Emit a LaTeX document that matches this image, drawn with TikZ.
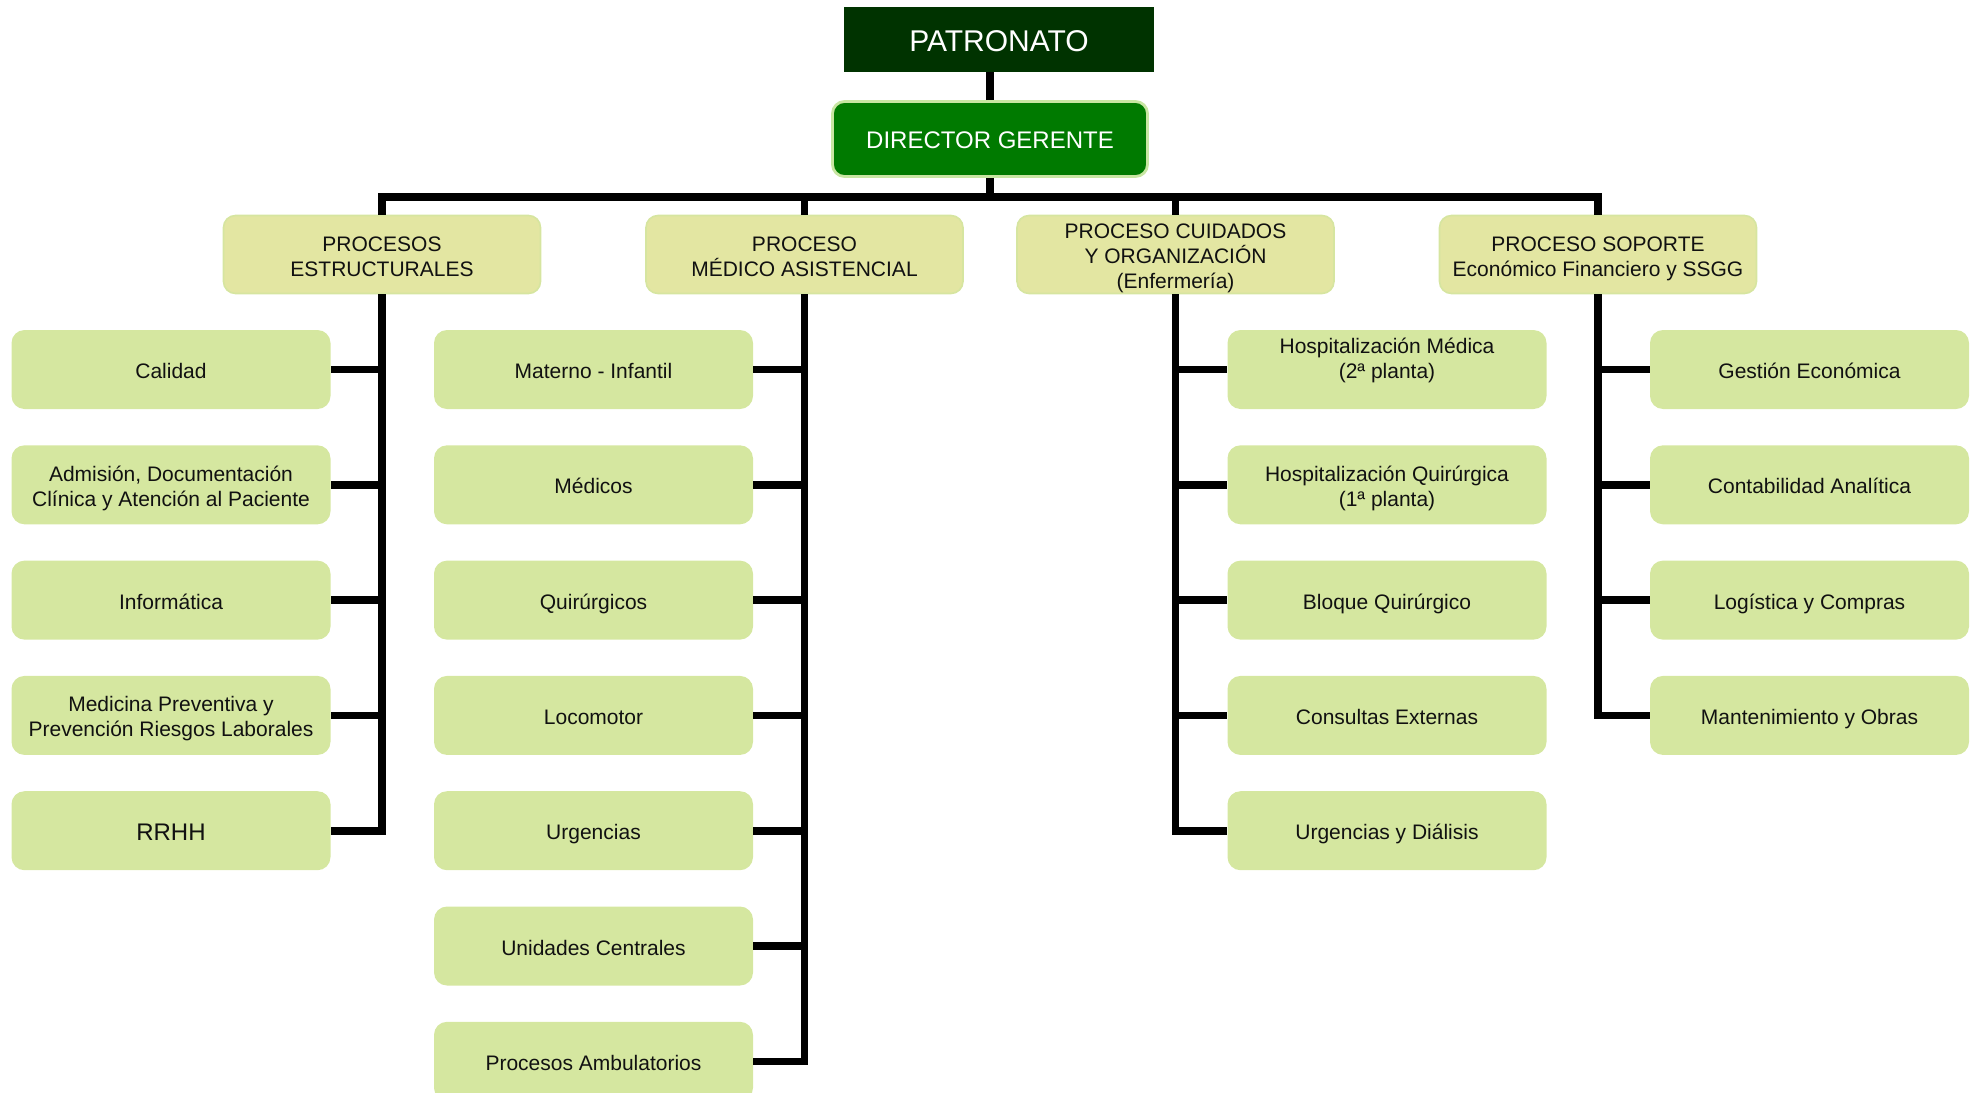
\documentclass[tikz,border=0pt]{standalone}
\usepackage{fontspec}
\setmainfont{Liberation Sans}
\definecolor{patfill}{HTML}{003300}
\definecolor{dirfill}{HTML}{007A00}
\definecolor{dirborder}{HTML}{C8E6A2}
\definecolor{ltfill}{HTML}{E3E6A2}
\definecolor{ltborder}{HTML}{D6E5A0}
\definecolor{chfill}{HTML}{D5E7A0}
\definecolor{txt}{HTML}{111111}
\newcommand{\tx}[1]{\rule{0pt}{11.4pt}#1\rule[-2.4pt]{0pt}{2.4pt}}
\newcommand{\txbig}[1]{\rule{0pt}{12.2pt}#1\rule[-2.4pt]{0pt}{2.4pt}}
\begin{document}
\begin{tikzpicture}[x=0.5pt,y=-0.5pt,
  conn/.style={line width=3.8pt, line join=miter, draw=black},
  patbox/.style={fill=patfill, minimum width=155pt, minimum height=32.5pt, inner sep=0pt, text=white, font=\fontsize{15}{18}\selectfont},
  dirbox/.style={fill=dirfill, draw=dirborder, line width=1.4pt, rounded corners=6pt, minimum width=157.5pt, minimum height=37.5pt, inner sep=0pt, text=white, font=\fontsize{12}{14}\selectfont},
  lvtwo/.style={fill=ltfill, draw=ltborder, line width=0.8pt, rounded corners=6pt, minimum width=158.5pt, minimum height=39pt, inner sep=0pt, align=center, text=txt, font=\fontsize{10.5}{12.5}\selectfont},
  child/.style={fill=chfill, rounded corners=6.5pt, minimum width=159.5pt, minimum height=39.5pt, inner sep=0pt, align=center, text=txt, font=\fontsize{10.5}{12.5}\selectfont}
]
\useasboundingbox (0,0) rectangle (1974,1092);
\clip (0,0) rectangle (1974,1092);

% top
\node[patbox] (pat) at (999,39.5) {\rule{0pt}{14pt}PATRONATO\rule[-2.26pt]{0pt}{2.26pt}};
\node[dirbox] (dir) at (990,139) {\rule{0pt}{11.3pt}DIRECTOR GERENTE\rule[-2pt]{0pt}{2pt}};

% level two
\node[lvtwo] (la) at (382,254.5) {\tx{PROCESOS\\ESTRUCTURALES}};
\node[lvtwo] (lb) at (804.5,254.5) {\tx{PROCESO\\MÉDICO ASISTENCIAL}};
\node[lvtwo] (lc) at (1175.5,254.5) {\tx{PROCESO CUIDADOS\\Y ORGANIZACIÓN\\(Enfermería)}};
\node[lvtwo] (ld) at (1598,254.5) {\tx{PROCESO SOPORTE\\Económico Financiero y SSGG}};

% column 1
\node[child] (a1) at (171,369.5) {\tx{Calidad}};
\node[child] (a2) at (171,484.8) {\tx{Admisión, Documentación\\Clínica y Atención al Paciente}};
\node[child] (a3) at (171,600.1) {\tx{Informática}};
\node[child] (a4) at (171,715.4) {\tx{Medicina Preventiva y\\Prevención Riesgos Laborales}};
\node[child, font=\fontsize{12}{14}\selectfont] (a5) at (171,830.7) {\txbig{RRHH}};

% column 2
\node[child] (b1) at (593.5,369.5) {\tx{Materno - Infantil}};
\node[child] (b2) at (593.5,484.8) {\tx{Médicos}};
\node[child] (b3) at (593.5,600.1) {\tx{Quirúrgicos}};
\node[child] (b4) at (593.5,715.4) {\tx{Locomotor}};
\node[child] (b5) at (593.5,830.7) {\tx{Urgencias}};
\node[child] (b6) at (593.5,946) {\tx{Unidades Centrales}};
\node[child] (b7) at (593.5,1061.3) {\tx{Procesos Ambulatorios}};

% column 3
\node[child] (c1) at (1387,369.5) {\tx{Hospitalización Médica\\(2ª planta)\\\mbox{}}};
\node[child] (c2) at (1387,484.8) {\tx{Hospitalización Quirúrgica\\(1ª planta)}};
\node[child] (c3) at (1387,600.1) {\tx{Bloque Quirúrgico}};
\node[child] (c4) at (1387,715.4) {\tx{Consultas Externas}};
\node[child] (c5) at (1387,830.7) {\tx{Urgencias y Diálisis}};

% column 4
\node[child] (d1) at (1809.5,369.5) {\tx{Gestión Económica}};
\node[child] (d2) at (1809.5,484.8) {\tx{Contabilidad Analítica}};
\node[child] (d3) at (1809.5,600.1) {\tx{Logística y Compras}};
\node[child] (d4) at (1809.5,715.4) {\tx{Mantenimiento y Obras}};

% connectors
\draw[conn] (dir.north) -- (dir.north |- pat.south);
\coordinate (bus) at (990,197);
\draw[conn] (dir.south) -- (bus);
\foreach \l in {la,lb,lc,ld} \draw[conn] (bus) -| (\l.north);
\foreach \c in {a1,a2,a3,a4,a5} \draw[conn] (la.south) |- (\c.east);
\foreach \c in {b1,b2,b3,b4,b5,b6,b7} \draw[conn] (lb.south) |- (\c.east);
\foreach \c in {c1,c2,c3,c4,c5} \draw[conn] (lc.south) |- (\c.west);
\foreach \c in {d1,d2,d3,d4} \draw[conn] (ld.south) |- (\c.west);
\end{tikzpicture}
\end{document}
